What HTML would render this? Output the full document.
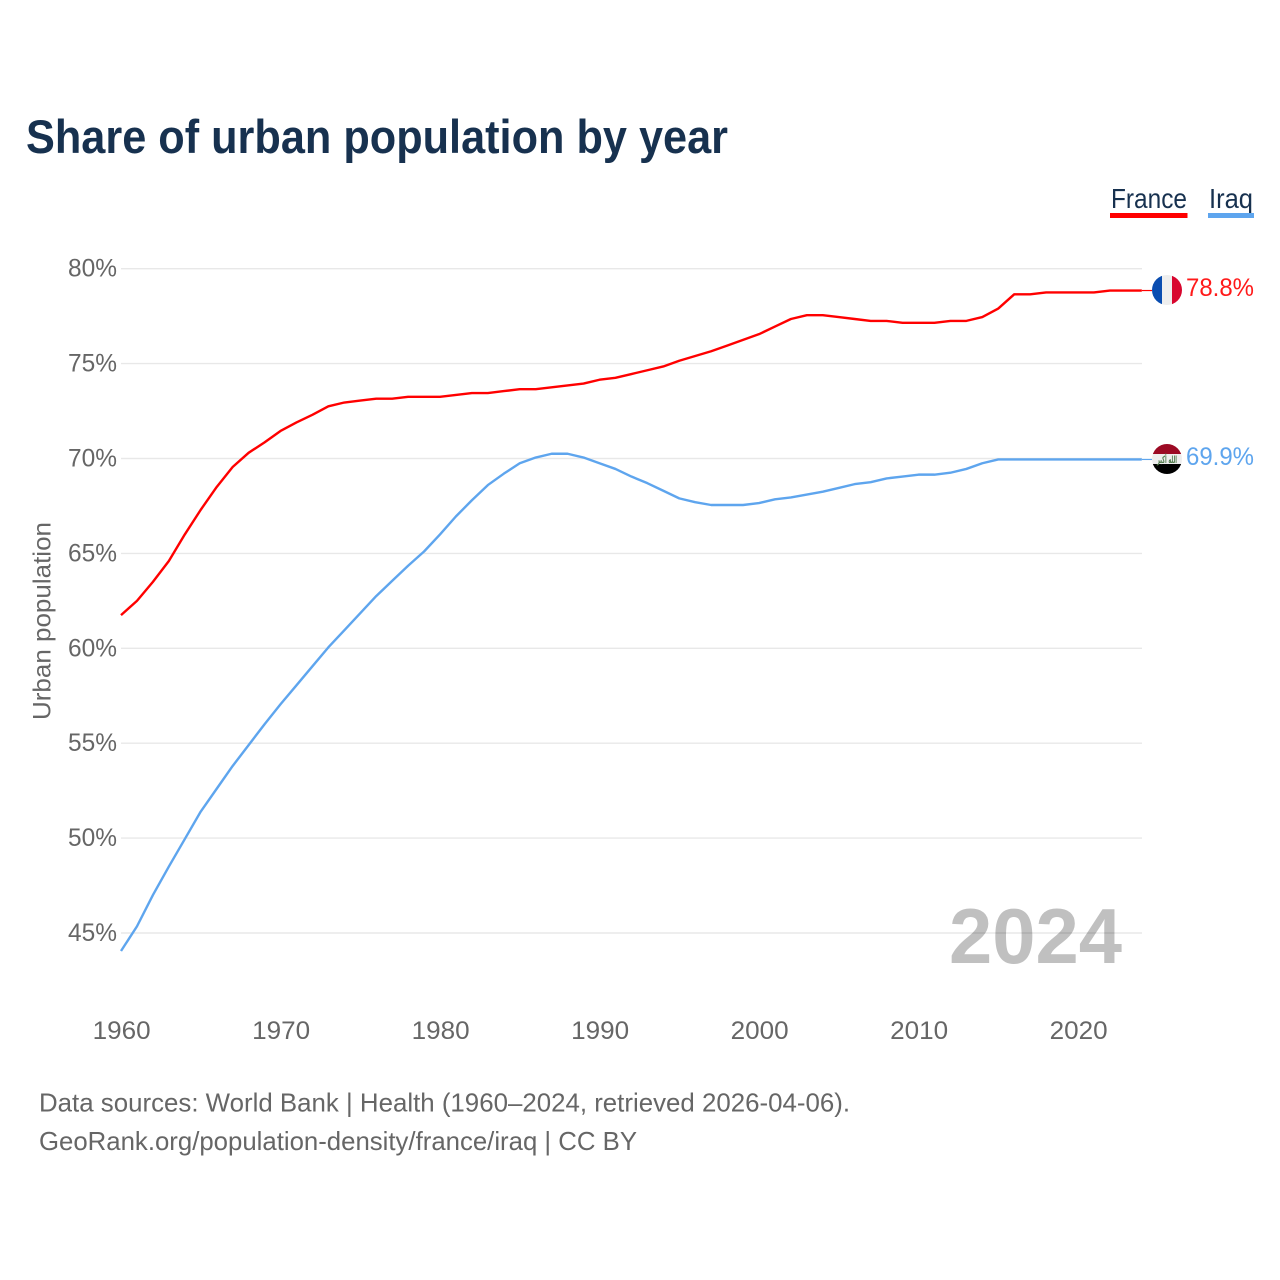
<!DOCTYPE html>
<html lang="en">
<head>
<meta charset="utf-8">
<title>Share of urban population by year</title>
<style>
html,body{margin:0;padding:0;background:#fff;}
svg{display:block;font-family:"Liberation Sans",sans-serif;}
</style>
</head>
<body>
<svg id="chart" xmlns="http://www.w3.org/2000/svg" width="1280" height="1280" viewBox="0 0 1280 1280">
  <rect width="1280" height="1280" fill="#ffffff"/>
  <text x="26" y="153" font-size="47" font-weight="700" fill="#17314f" textLength="702" lengthAdjust="spacingAndGlyphs">Share of urban population by year</text>

  <g>
    <text x="1111" y="208" font-size="28" fill="#17314f" textLength="76" lengthAdjust="spacingAndGlyphs">France</text>
    <rect x="1110" y="213" width="77.5" height="5" fill="#ff0000"/>
  </g>
  <g>
    <text x="1209" y="208" font-size="28" fill="#17314f" textLength="44" lengthAdjust="spacingAndGlyphs">Iraq</text>
    <rect x="1208" y="213" width="46" height="5" fill="#5ea5ee"/>
  </g>

  <text x="949" y="963" font-size="78" font-weight="700" fill="#c0c0c0" textLength="173" lengthAdjust="spacingAndGlyphs">2024</text>

  <g id="grid"></g>
  <g id="yticks"></g>
  <g id="xticks"></g>
  <text transform="translate(50.5,621) rotate(-90)" text-anchor="middle" font-size="25" fill="#666666" textLength="198" lengthAdjust="spacingAndGlyphs">Urban population</text>
  <g id="series"></g>

  <g>
    <defs>
      <clipPath id="clip-fr"><circle cx="1167" cy="290" r="15"/></clipPath>
      <clipPath id="clip-iq"><circle cx="1167" cy="459" r="15"/></clipPath>
    </defs>
    <g clip-path="url(#clip-fr)">
      <rect x="1152" y="275" width="10" height="30" fill="#0a4db0"/>
      <rect x="1162" y="275" width="10" height="30" fill="#eeeeee"/>
      <rect x="1172" y="275" width="10" height="30" fill="#d8062e"/>
    </g>
  </g>
  <g>
    <g clip-path="url(#clip-iq)">
      <rect x="1152" y="444" width="30" height="10" fill="#9c0a24"/>
      <rect x="1152" y="454" width="30" height="10" fill="#eeeeee"/>
      <rect x="1152" y="464" width="30" height="10" fill="#000000"/>
      <text x="1167" y="463" text-anchor="middle" font-size="10" font-weight="700" fill="#4f7a4a" style="font-family:'DejaVu Sans',sans-serif" textLength="20" lengthAdjust="spacingAndGlyphs">الله أكبر</text>
    </g>
  </g>

  <text x="1186" y="296" font-size="25" fill="#ff1a1a" textLength="68" lengthAdjust="spacingAndGlyphs">78.8%</text>
  <text x="1186" y="465" font-size="25" fill="#5ea5ee" textLength="68" lengthAdjust="spacingAndGlyphs">69.9%</text>

  <text x="39" y="1111.5" font-size="26" fill="#666666" textLength="811" lengthAdjust="spacingAndGlyphs">Data sources: World Bank | Health (1960–2024, retrieved 2026-04-06).</text>
  <text x="39" y="1150" font-size="26" fill="#666666" textLength="598" lengthAdjust="spacingAndGlyphs">GeoRank.org/population-density/france/iraq | CC BY</text>
</svg>
<script>
var firstYear = 1960;
var franceValues = [61.75,62.5,63.5,64.6,66.0,67.3,68.5,69.55,70.3,70.85,71.45,71.9,72.3,72.75,72.95,73.05,73.15,73.15,73.25,73.25,73.25,73.35,73.45,73.45,73.55,73.65,73.65,73.75,73.85,73.95,74.15,74.25,74.45,74.65,74.85,75.15,75.4,75.65,75.95,76.25,76.55,76.95,77.35,77.55,77.55,77.45,77.35,77.25,77.25,77.15,77.15,77.15,77.25,77.25,77.45,77.9,78.65,78.65,78.75,78.75,78.75,78.75,78.85,78.85,78.85];
var iraqValues = [44.05,45.35,47.0,48.5,49.95,51.4,52.6,53.8,54.9,56.0,57.05,58.05,59.05,60.05,60.95,61.85,62.75,63.55,64.35,65.1,66.0,66.95,67.8,68.6,69.2,69.75,70.05,70.25,70.25,70.05,69.75,69.45,69.05,68.7,68.3,67.9,67.7,67.55,67.55,67.55,67.65,67.85,67.95,68.1,68.25,68.45,68.65,68.75,68.95,69.05,69.15,69.15,69.25,69.45,69.75,69.95,69.95,69.95,69.95,69.95,69.95,69.95,69.95,69.95,69.95];
var yTickValues = [45,50,55,60,65,70,75,80];
var xTickValues = [1960,1970,1980,1990,2000,2010,2020];

var NS = 'http://www.w3.org/2000/svg';
function xScale(year){ return 121 + (year - 1960) * 15.95; }
function yScale(v){ return 933 - (v - 45) * 18.98; }
function make(tag, attrs, parent){
  var el = document.createElementNS(NS, tag);
  for (var k in attrs) el.setAttribute(k, attrs[k]);
  parent.appendChild(el);
  return el;
}
var grid = document.getElementById('grid');
var yticks = document.getElementById('yticks');
var xticks = document.getElementById('xticks');
var series = document.getElementById('series');

yTickValues.forEach(function(v){
  var y = yScale(v);
  var line = make('line', {x1:121, x2:1142, y1:y, y2:y, stroke:'#000000', 'stroke-opacity':'0.09', 'stroke-width':1.4}, grid);
  
  
  var t = make('text', {x:117, y:y + 8, 'text-anchor':'end', 'font-size':25, fill:'#666666', textLength:49, lengthAdjust:'spacingAndGlyphs'}, yticks);
  
  
  t.textContent = v + '%';
});
xTickValues.forEach(function(yr){
  var t = make('text', {x:xScale(yr) + 0.6, y:1039, 'text-anchor':'middle', 'font-size':25, fill:'#666666', textLength:58, lengthAdjust:'spacingAndGlyphs'}, xticks);
  
  
  t.textContent = yr;
});
function drawSeries(values, color, name){
  var d = values.map(function(v, i){
    return (i ? 'L' : 'M') + xScale(firstYear + i).toFixed(2) + ' ' + yScale(v).toFixed(2);
  }).join(' ');
  var p = make('path', {d:d, fill:'none', stroke:color, 'stroke-width':2.4, 'stroke-linejoin':'round'}, series);
  
  
  var lastY = yScale(values[values.length - 1]);
  var c = make('line', {x1:xScale(firstYear + values.length - 1), x2:1152, y1:lastY, y2:lastY, stroke:color, 'stroke-width':1.2}, series);
  
  
}
drawSeries(franceValues, '#ff0000', 'line-france');
drawSeries(iraqValues, '#5ea5ee', 'line-iraq');
</script>
</body>
</html>
